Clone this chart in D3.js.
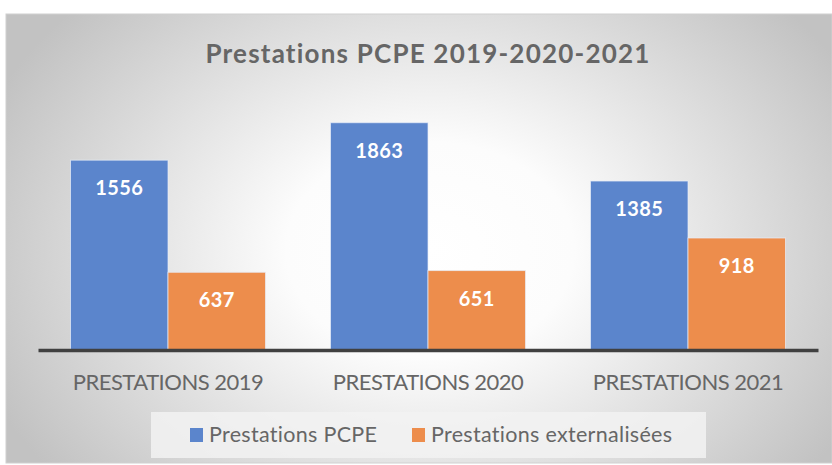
<!DOCTYPE html>
<html><head><meta charset="utf-8">
<script src="https://cdn.jsdelivr.net/npm/d3@7"></script>
<style>html,body{margin:0;padding:0;background:#fff;}svg{display:block;}</style>
</head><body>
<svg id="chart" width="832" height="465"></svg>
<script>
const categories = ["PRESTATIONS 2019", "PRESTATIONS 2020", "PRESTATIONS 2021"];
const seriesNames = ["Prestations PCPE", "Prestations externalisées"];
const pcpe = [1556, 1863, 1385];
const externalisees = [637, 651, 918];
const yMax = 2000;
const colors = ["#5b85cc", "#ed8d4c"];
const title = "Prestations PCPE 2019-2020-2021";

const svg = d3.select("#chart");
const W = 832, H = 465;
const defs = svg.append("defs");
const rg = defs.append("radialGradient").attr("id","bg")
  .attr("gradientUnits","userSpaceOnUse").attr("cx",430).attr("cy",250).attr("r",480)
  .attr("gradientTransform","translate(430,250) scale(1,0.75) translate(-430,-250)");
rg.append("stop").attr("offset","0").attr("stop-color","#ffffff");
rg.append("stop").attr("offset","0.3").attr("stop-color","#fcfcfc");
rg.append("stop").attr("offset","1").attr("stop-color","#c2c2c2");

svg.append("rect").attr("x",6).attr("y",14).attr("width",W-6).attr("height",449)
  .attr("fill","url(#bg)").attr("stroke","#d0d0d0").attr("stroke-width",1);

const font = "Lato, 'Open Sans', sans-serif";
svg.append("text").attr("x",428).attr("y",63).attr("text-anchor","middle")
  .attr("font-family",font).attr("font-weight","bold").attr("font-size",26)
  .attr("letter-spacing",1.2)
  .attr("fill","#666666").text(title);

const x0 = d3.scaleBand().domain(categories).range([38,818]).paddingInner(0).paddingOuter(0);
const x1 = d3.scaleBand().domain(seriesNames).range([0, x0.bandwidth()]).paddingInner(0).paddingOuter(1/3);
const y = d3.scaleLinear().domain([0,yMax]).range([350,106]);

const data = categories.map((c,i)=>({cat:c, vals:[pcpe[i], externalisees[i]]}));
const g = svg.append("g");
const groups = g.selectAll("g.cat").data(data).join("g").attr("transform",d=>`translate(${x0(d.cat)},0)`);
groups.selectAll("rect").data(d=>d.vals.map((v,j)=>({v,s:seriesNames[j],j})))
  .join("rect")
  .attr("x",d=>x1(d.s)).attr("width",x1.bandwidth())
  .attr("y",d=>y(d.v)).attr("height",d=>y(0)-y(d.v))
  .attr("fill",d=>colors[d.j]).attr("stroke","#e8eefa").attr("stroke-opacity",0.7).attr("stroke-width",1);
groups.selectAll("text").data(d=>d.vals.map((v,j)=>({v,s:seriesNames[j],j})))
  .join("text")
  .attr("x",d=>x1(d.s)+x1.bandwidth()/2).attr("y",d=>y(d.v)+35)
  .attr("text-anchor","middle").attr("font-family",font).attr("font-weight","bold")
  .attr("font-size",20).attr("letter-spacing",0.4).attr("fill","#ffffff").text(d=>d.v);

// baseline axis
const xAxis = d3.axisBottom(x0).tickSize(0).tickPadding(24);
const ax = svg.append("g").attr("transform","translate(0,350)").call(xAxis);
ax.select(".domain").attr("stroke","#404040").attr("stroke-width",3.5);
ax.selectAll("text").attr("font-family",font).attr("font-size",22).attr("letter-spacing",-0.5).attr("fill","#666666");

// legend
svg.append("rect").attr("x",151).attr("y",412).attr("width",555).attr("height",46).attr("fill","#f2f2f2").attr("fill-opacity",0.85);
const legX = [190, 412];
const lg = svg.append("g").selectAll("g").data(seriesNames).join("g")
  .attr("transform",(d,i)=>`translate(${legX[i]},428)`);
lg.append("rect").attr("width",13).attr("height",14).attr("fill",(d,i)=>colors[i]);
lg.append("text").attr("x",19).attr("y",14).attr("font-family",font).attr("font-size",21.5)
  .attr("letter-spacing",0.3).attr("fill","#666666").text(d=>d);
</script>
</body></html>
